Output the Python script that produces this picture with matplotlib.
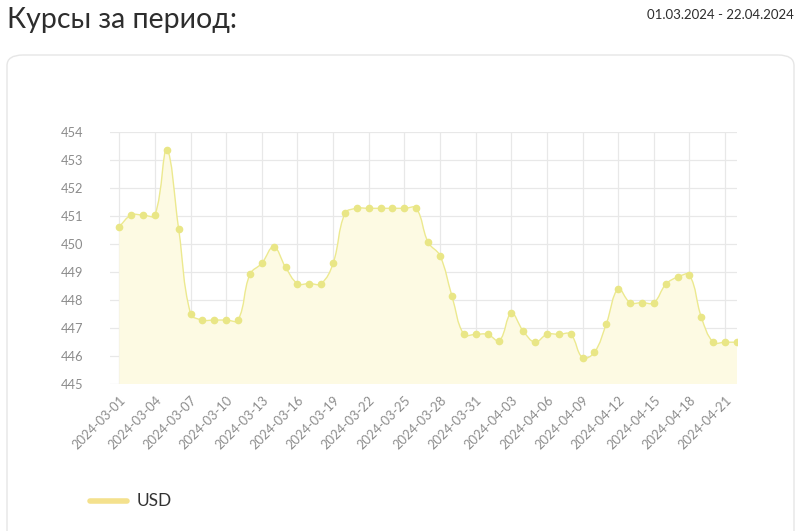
import numpy as np
import matplotlib.pyplot as plt
from matplotlib.path import Path
from matplotlib.patches import PathPatch, FancyBboxPatch

plt.rcParams['font.family'] = ['Lato', 'DejaVu Sans']

# ---- данные ----
dates = np.arange(np.datetime64('2024-03-01'), np.datetime64('2024-04-23'))
usd = [450.62, 451.03, 451.03, 451.03, 453.35, 450.53, 447.52, 447.29, 447.29, 447.29,
       447.29, 448.92, 449.31, 449.90, 449.17, 448.59, 448.59, 448.59, 449.31, 451.09,
       451.27, 451.27, 451.27, 451.27, 451.27, 451.27, 450.06, 449.58, 448.15, 446.78,
       446.78, 446.78, 446.56, 447.53, 446.90, 446.50, 446.78, 446.78, 446.78, 445.95,
       446.14, 447.16, 448.40, 447.91, 447.91, 447.91, 448.56, 448.82, 448.89, 447.39,
       446.50, 446.50, 446.50]
y_ticks = list(range(445, 455))
title = 'Курсы за период:'
period = '01.03.2024 - 22.04.2024'
series_name = 'USD'

line_c = '#ece98f'
marker_c = '#e9e686'
fill_c = '#fdfae3'
grid_c = '#e8e8e8'
text_c = '#8c8c8c'


def smooth_path(x, y, t=0.4, base=None):
    # кривая Безье как в Chart.js (tension), в масштабе пикселей
    sx, sy = 11.87, 28.07
    px, py = np.asarray(x, float), np.asarray(y, float)
    n = len(px)
    verts = [(px[0], py[0])]
    codes = [Path.MOVETO]
    cps = []
    for i in range(n):
        p0 = max(i - 1, 0)
        p2 = min(i + 1, n - 1)
        d01 = np.hypot((px[i] - px[p0]) * sx, (py[i] - py[p0]) * sy)
        d12 = np.hypot((px[p2] - px[i]) * sx, (py[p2] - py[i]) * sy)
        tot = d01 + d12 if d01 + d12 > 0 else 1
        fa, fb = t * d01 / tot, t * d12 / tot
        dx, dy = px[p2] - px[p0], py[p2] - py[p0]
        cps.append(((px[i] - fa * dx, py[i] - fa * dy), (px[i] + fb * dx, py[i] + fb * dy)))
    for i in range(1, n):
        verts += [cps[i - 1][1], cps[i][0], (px[i], py[i])]
        codes += [Path.CURVE4] * 3
    if base is not None:
        verts += [(px[-1], base), (px[0], base), (px[0], py[0])]
        codes += [Path.LINETO, Path.LINETO, Path.CLOSEPOLY]
    return Path(verts, codes)


fig = plt.figure(figsize=(8, 5.31), dpi=100)

# карточка
card = FancyBboxPatch((7 / 800, -0.05), 787 / 800, (531 - 55) / 531 + 0.05,
                      boxstyle='round,pad=0,rounding_size=0.02', transform=fig.transFigure,
                      facecolor='white', edgecolor='#e6e6e6', linewidth=1.0, zorder=-5)
fig.patches.append(card)

fig.text(7 / 800, 1 - 20 / 531, title, fontsize=20.5, color='#2d2d2d', va='center', ha='left')
fig.text(794 / 800, 1 - 15 / 531, period, fontsize=9.5, color='#2d2d2d', va='center', ha='right')

ax = fig.add_axes([110 / 800, (531 - 384.3) / 531, 627 / 800, (384.3 - 131.7) / 531])
ax.set_facecolor('none')
x = np.arange(len(usd))

ax.add_patch(PathPatch(smooth_path(x, usd, base=445), facecolor=fill_c, edgecolor='none', zorder=1))
ax.add_patch(PathPatch(smooth_path(x, usd), facecolor='none', edgecolor=line_c, linewidth=1.0, zorder=2))
ax.plot(x, usd, linestyle='none', marker='o', markersize=4.5, color=marker_c, zorder=3)

ax.set_xlim(-0.78, len(usd) - 1)
ax.set_ylim(445, 454)
ax.set_yticks(y_ticks)
ax.set_yticklabels([str(v) for v in y_ticks])
xt = x[::3]
ax.set_xticks(xt)
ax.set_xticklabels([str(dates[i]) for i in xt], rotation=45, ha='right', rotation_mode='anchor')
ax.grid(True, color=grid_c, linewidth=0.9)
ax.set_axisbelow(True)
for s in ax.spines.values():
    s.set_visible(False)
ax.tick_params(axis='both', length=0, colors=text_c, labelsize=9.3)
ax.tick_params(axis='y', pad=19)
ax.tick_params(axis='x', pad=7)

# легенда
fig.lines.append(plt.Line2D([90 / 800, 127 / 800], [1 - 501 / 531] * 2, transform=fig.transFigure,
                            color='#f4e18d', linewidth=4, solid_capstyle='round'))
fig.text(137 / 800, 1 - 501 / 531, series_name, fontsize=12.5, color='#333333', va='center', ha='left')

fig.savefig('out.png', dpi=100)
